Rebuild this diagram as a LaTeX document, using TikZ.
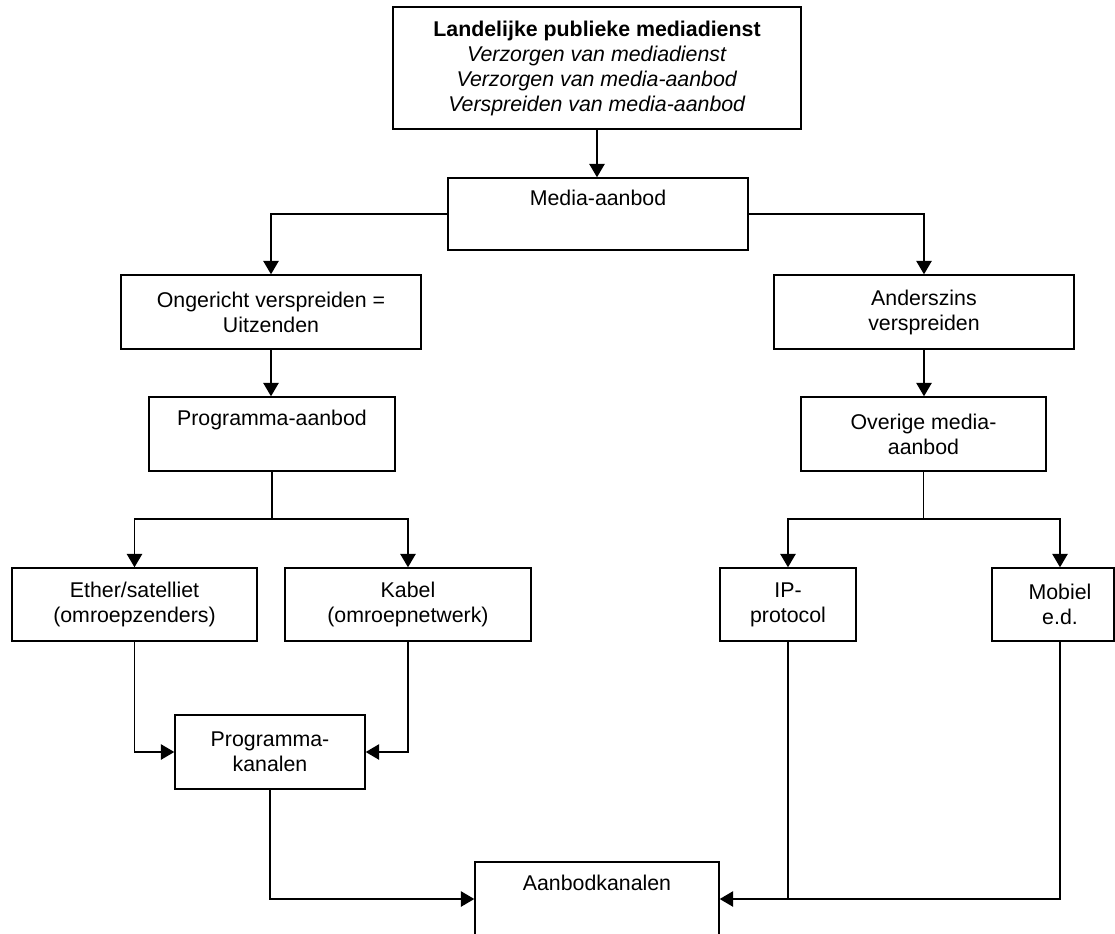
\documentclass[tikz,border=0pt]{standalone}
\usepackage{fontspec}
\setmainfont{Liberation Sans}
\usetikzlibrary{arrows.meta}
\tikzset{
  box/.style={draw, line width=1.1pt, align=center, inner sep=0pt,
    font=\fontsize{16}{18.75}\selectfont, minimum height=55.5pt},
  conn/.style={line width=1pt},
  arr/.style={conn, -{Triangle[length=10pt,width=11.5pt]}},
}
\begin{document}
\begin{tikzpicture}[x=0.75pt,y=-0.75pt]
\useasboundingbox (0,0) rectangle (1115,933);
% boxes
\node[box, minimum width=306pt, minimum height=91.5pt] (top) at (597,68)
  {\textbf{Landelijke publieke mediadienst}\\\textit{Verzorgen van mediadienst}\\\textit{Verzorgen van media-aanbod}\\\textit{Verspreiden van media-aanbod}};
\node[box, minimum width=225pt, minimum height=54pt] (media) at (598,214) {Media-aanbod\\\strut};
\node[box, minimum width=225pt] (ong) at (271,312) {Ongericht verspreiden =\\Uitzenden};
\node[box, minimum width=225pt] (anders) at (924,312) {Anderszins\\verspreiden};
\node[box, minimum width=184.5pt] (pa) at (272,434) {Programma-aanbod\\\strut};
\node[box, minimum width=184pt] (ov) at (923.5,434) {Overige media-\\aanbod};
\node[box, minimum width=184pt, minimum height=54.75pt] (ether) at (134.5,604.5) {Ether/satelliet\\(omroepzenders)};
\node[box, minimum width=184.5pt, minimum height=54.75pt] (kabel) at (408,604.5) {Kabel\\(omroepnetwerk)};
\node[box, minimum width=102pt, minimum height=54.75pt] (ip) at (788,604.5) {IP-\\protocol};
\node[box, minimum width=91.5pt, minimum height=54.75pt] (mob) at (1053,604.5) {\hspace*{10.5pt}Mobiel\\\hspace*{10.5pt}e.d.};
\node[box, minimum width=142.5pt] (pk) at (270,752) {Programma-\\kanalen};
\node[box, minimum width=183pt] (ak) at (597,899) {Aanbodkanalen\\\strut};
% branch points
\coordinate (bl) at (272,519);
\coordinate (br) at (923.5,519);
\coordinate (mobin) at ([xshift=5.25pt]mob.north);
% connectors
\draw[arr] (top.south) -- (top.south |- media.north);
\draw[arr] (media.west) -| (ong.north);
\draw[arr] (media.east) -| (anders.north);
\draw[arr] (ong.south) -- (ong.south |- pa.north);
\draw[arr] (anders.south) -- (anders.south |- ov.north);
\draw[conn] (pa.south) -- (bl);
\draw[arr] (bl) -| (ether.north);
\draw[arr] (bl) -| (kabel.north);
\draw[conn] (ov.south) -- (br);
\draw[arr] (br) -| (ip.north);
\draw[arr] (br) -| (mobin);
\draw[arr] (ether.south) |- (pk.west);
\draw[arr] (kabel.south) |- (pk.east);
\draw[arr] (pk.south) |- (ak.west);
\draw[arr] (ip.south) |- (ak.east);
\draw[conn] ([xshift=5.25pt]mob.south) |- (ip.south |- ak.east);
\end{tikzpicture}
\end{document}
